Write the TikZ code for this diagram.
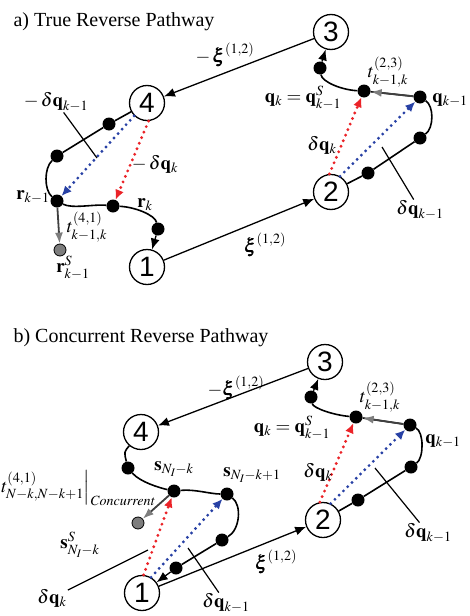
\documentclass[tikz,border=0pt]{standalone}
\usepackage{mathptmx}
\usepackage{bm}
\usepackage[no-math]{fontspec}
\setmainfont{Liberation Serif}
\newfontfamily\numfont{Liberation Sans}
\usetikzlibrary{arrows.meta}
\definecolor{dqred}{RGB}{235,35,40}
\definecolor{dqblue}{RGB}{40,65,165}
\definecolor{tgray}{RGB}{125,125,125}

\begin{document}
\begin{tikzpicture}[x=1pt,y=-1pt,font=\fontsize{19}{22}\selectfont,
  state/.style={circle,draw,fill=white,line width=1.3pt,minimum size=35pt,inner sep=0pt,font=\numfont\fontsize{28}{28}\selectfont},
  dot/.style={circle,fill,inner sep=0pt,minimum size=13pt},
  sdot/.style={circle,draw,fill=tgray,line width=0.8pt,inner sep=0pt,minimum size=12pt},
  trace/.style={line width=1.6pt},
  jump/.style={line width=1.3pt,-{Latex[length=11pt,width=9pt]}},
  toS/.style={line width=1.8pt,black!75,-{Latex[length=11pt,width=8pt,color=tgray]}},
  dq/.style={line width=3.2pt,line cap=round,dash pattern=on 0pt off 6pt,-{Latex[length=10pt,width=9pt]}},
  leader/.style={line width=1.2pt},
  lab/.style={inner sep=1pt}]
  \useasboundingbox (0,0) rectangle (469,616);

  % a) true reverse pathway
  \node[anchor=base west,font=\fontsize{20}{22}\selectfont] (atitle) at (10,26) {a) True Reverse Pathway};
  \node[state] (a4) at (147,103) {4};
  \node[state] (a1) at (147,267) {1};
  \node[state] (a2) at (331,192) {2};
  \node[state] (a3) at (331,32) {3};
  \node[dot] (ad1) at (109,124) {};
  \node[dot] (ad2) at (57,156) {};
  \node[dot] (ar1) at (57,201) {};
  \node[dot] (ad3) at (113,206) {};
  \node[dot] (ad4) at (158,229) {};
  \node[sdot] (agray) at (60,250) {};
  \node[dot] (ad5) at (368,173) {};
  \node[dot] (ad6) at (420,138) {};
  \node[dot] (aq1) at (420,97) {};
  \node[dot] (aq0) at (364,91) {};
  \node[dot] (ad7) at (320,68) {};

  \draw[jump] (a3) -- (a4);
  \draw[jump] (a1) -- (a2);
  \draw[trace] (a4) -- (ad1) -- (ad2) .. controls (44,168) and (44,190) .. (ar1)
    .. controls (72,209) and (95,204) .. (ad3) .. controls (135,207) and (155,215) .. (ad4);
  \draw[jump] (ad4) -- (a1);
  \draw[toS] (ar1) -- (agray);
  \draw[trace] (a2) -- (ad5) -- (ad6) .. controls (434,128) and (434,106) .. (aq1) -- (aq0)
    .. controls (342,90) and (322,82) .. (ad7);
  \draw[toS] (aq1) -- (aq0);
  \draw[jump] (ad7) -- (a3);
  \draw[dq,dqblue] (a4.225) -- (ar1);
  \draw[dq,dqred] (a4.275) -- (ad3);
  \draw[dq,dqred] (a2.95) -- (aq0);
  \draw[dq,dqblue] (a2.60) -- (aq1);

  \node[lab] (axim) at (225,55) {$-\,\bm{\xi}^{(1,2)}$};
  \node[lab] (axi) at (265,245) {$\bm{\xi}^{(1,2)}$};
  \node[lab] (adq1) at (56,102) {$-\,\delta\mathbf{q}_{k-1}$};
  \node[lab] (adqk) at (155,164) {$-\,\delta\mathbf{q}_{k}$};
  \node[lab] (ark1) at (33,197) {$\mathbf{r}_{k-1}$};
  \node[lab] (ark) at (145,205) {$\mathbf{r}_{k}$};
  \node[lab] (at41) at (87,227) {$t^{(4,1)}_{k-1,k}$};
  \node[lab] (arS) at (73,268) {$\mathbf{r}^{S}_{k-1}$};
  \node[lab] (aqk) at (303,98) {$\mathbf{q}_{k}=\mathbf{q}^{S}_{k-1}$};
  \node[lab] (at23) at (388,72) {$t^{(2,3)}_{k-1,k}$};
  \node[lab] (aqk1) at (450,100) {$\mathbf{q}_{k-1}$};
  \node[lab] (aRdqk) at (322,145) {$\delta\mathbf{q}_{k}$};
  \node[lab] (aRdq1) at (420,210) {$\delta\mathbf{q}_{k-1}$};
  \coordinate (aLtip) at (97,158);
  \coordinate (aRtip) at (382,147);
  \draw[leader] (adq1) -- (aLtip);
  \draw[leader] (aRdq1) -- (aRtip);

  % b) concurrent reverse pathway
  \node[anchor=base west,font=\fontsize{20}{22}\selectfont] (btitle) at (10,342) {b) Concurrent Reverse Pathway};
  \node[state] (b4) at (141,432) {4};
  \node[state] (b1) at (142,593) {1};
  \node[state] (b2) at (323,520) {2};
  \node[state] (b3) at (325,362) {3};
  \node[dot] (bd1) at (128,468) {};
  \node[dot] (bs0) at (174,491) {};
  \node[dot] (bs1) at (227,494) {};
  \node[dot] (bd2) at (222,540) {};
  \node[dot] (bd3) at (176,568) {};
  \node[sdot] (bgray) at (138,523) {};
  \node[dot] (bd4) at (358,500) {};
  \node[dot] (bd5) at (411,467) {};
  \node[dot] (bq1) at (410,425) {};
  \node[dot] (bq0) at (356,417) {};
  \node[dot] (bd6) at (311,397) {};

  \draw[jump] (b3) -- (b4);
  \draw[jump] (b1) -- (b2);
  \draw[trace] (b4) .. controls (124,452) .. (bd1) .. controls (140,482) and (160,488) .. (bs0)
    .. controls (195,489) and (210,494) .. (bs1) .. controls (242,505) and (240,530) .. (bd2) -- (bd3);
  \draw[jump] (bd3) -- (b1);
  \draw[toS] (bs0) -- (bgray);
  \draw[trace] (b2) -- (bd4) -- (bd5) .. controls (424,458) and (424,432) .. (bq1) -- (bq0)
    .. controls (333,415) and (313,408) .. (bd6);
  \draw[toS] (bq1) -- (bq0);
  \draw[jump] (bd6) -- (b3);
  \draw[dq,dqred] (b1.85) -- (bs0);
  \draw[dq,dqblue] (b1.60) -- (bs1);
  \draw[dq,dqred] (b2.100) -- (bq0);
  \draw[dq,dqblue] (b2.65) -- (bq1);

  \node[lab] (bxim) at (236,388) {$-\bm{\xi}^{(1,2)}$};
  \node[lab] (bxi) at (276,562) {$\bm{\xi}^{(1,2)}$};
  \node[lab] (bs0l) at (174,469) {$\mathbf{s}_{N_I-k}$};
  \node[lab] (bs1l) at (252,475) {$\mathbf{s}_{N_I-k+1}$};
  \node[lab,anchor=west,inner sep=0pt] (bt41) at (0,488) {$\left.t^{(4,1)}_{N-k,N-k+1}\right|_{\mathit{Concurrent}}$};
  \node[lab] (bsS) at (80,545) {$\mathbf{s}^{S}_{N_I-k}$};
  \node[lab] (bdqk) at (52,598) {$\delta\mathbf{q}_{k}$};
  \node[lab] (bdq1) at (226,603) {$\delta\mathbf{q}_{k-1}$};
  \node[lab] (bqk) at (292,428) {$\mathbf{q}_{k}=\mathbf{q}^{S}_{k-1}$};
  \node[lab] (bt23) at (380,397) {$t^{(2,3)}_{k-1,k}$};
  \node[lab] (bqk1) at (443,441) {$\mathbf{q}_{k-1}$};
  \node[lab] (bRdqk) at (318,472) {$\delta\mathbf{q}_{k}$};
  \node[lab] (bRdq1) at (428,533) {$\delta\mathbf{q}_{k-1}$};
  \coordinate (bLtip) at (148,550);
  \coordinate (bMtip) at (188,548);
  \coordinate (bRtip) at (375,468);
  \draw[leader] (bdqk) -- (bLtip);
  \draw[leader] (bdq1) -- (bMtip);
  \draw[leader] (bRdq1) -- (bRtip);
\end{tikzpicture}
\end{document}
